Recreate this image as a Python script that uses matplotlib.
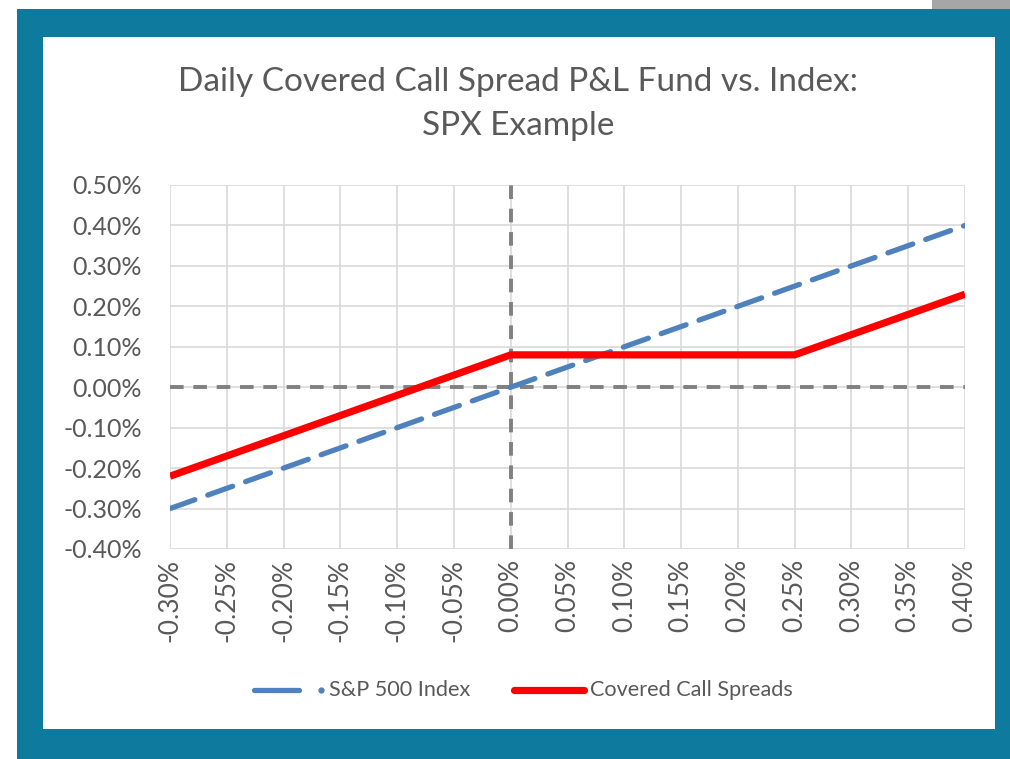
import matplotlib
matplotlib.use("Agg")
import matplotlib.pyplot as plt
from matplotlib.patches import Rectangle
from matplotlib.lines import Line2D

categories = ["-0.30%", "-0.25%", "-0.20%", "-0.15%", "-0.10%", "-0.05%", "0.00%",
              "0.05%", "0.10%", "0.15%", "0.20%", "0.25%", "0.30%", "0.35%", "0.40%"]
sp500 = [-0.30, -0.25, -0.20, -0.15, -0.10, -0.05, 0.00, 0.05, 0.10, 0.15, 0.20, 0.25, 0.30, 0.35, 0.40]
covered = [-0.22, -0.17, -0.12, -0.07, -0.02, 0.03, 0.08, 0.08, 0.08, 0.08, 0.08, 0.08, 0.13, 0.18, 0.23]
yticks = [-0.40, -0.30, -0.20, -0.10, 0.00, 0.10, 0.20, 0.30, 0.40, 0.50]
title = "Daily Covered Call Spread P&L Fund vs. Index:\nSPX Example"

W, H = 1010, 759
fig = plt.figure(figsize=(W / 100, H / 100), dpi=100)
plt.rcParams['font.family'] = ['Lato', 'DejaVu Sans']
txt = "#595959"

def fx(px): return px / W
def fy(py): return 1 - py / H

# frame
teal = "#0e7a9e"
fig.patches.append(Rectangle((fx(932), fy(9)), fx(1010 - 932), 9 / H, transform=fig.transFigure,
                             facecolor="#a6a6a6", edgecolor="none", zorder=-3))
fig.patches.append(Rectangle((fx(17), 0), fx(1010 - 17), fy(9), transform=fig.transFigure,
                             facecolor=teal, edgecolor="none", zorder=-3))
fig.patches.append(Rectangle((fx(43), fy(729)), fx(995 - 43), (729 - 37) / H, transform=fig.transFigure,
                             facecolor="white", edgecolor="none", zorder=-2))

ax = fig.add_axes([fx(170), fy(549), fx(965 - 170), (549 - 185) / H])
ax.set_facecolor("none")
x = list(range(len(categories)))
ax.set_xlim(0, len(categories) - 1)
ax.set_ylim(-0.40, 0.50)
ax.set_xticks(x)
ax.set_xticklabels(categories, rotation=90, fontsize=19, color=txt)
ax.set_yticks(yticks)
ax.set_yticklabels([f"{v:.2f}%" for v in yticks], fontsize=18, color=txt)
ax.grid(True, color="#d9d9d9", linewidth=1.2)
ax.set_axisbelow(True)
for s in ax.spines.values():
    s.set_visible(False)
ax.tick_params(axis="y", length=0, pad=20)
ax.tick_params(axis="x", length=0, pad=7)

zero_idx = categories.index("0.00%")
ax.axhline(0, color="#808080", linewidth=2.8, dashes=(3.5, 2.5), zorder=2)
ax.axvline(zero_idx, color="#808080", linewidth=2.8, dashes=(3.5, 2.5), zorder=2)

ax.plot(x, sp500, color="#4f81bd", linewidth=3.8, dashes=(5, 2.6), dash_capstyle="round",
        solid_capstyle="round", zorder=3)
ax.plot(x, covered, color="#ff0000", linewidth=5.2, solid_capstyle="butt", solid_joinstyle="miter", zorder=4)

fig.text(fx(518), fy(104), title, ha="center", va="center", fontsize=24, color=txt, linespacing=1.55)

# legend
ly = fy(690)
fig.lines.append(Line2D([fx(254), fx(299)], [ly, ly], transform=fig.transFigure, color="#4f81bd",
                        linewidth=3.8, solid_capstyle="round"))
fig.lines.append(Line2D([fx(321)], [ly], transform=fig.transFigure, color="#4f81bd",
                        marker="o", markersize=3.5, linestyle="none"))
fig.text(fx(329), ly, "S&P 500 Index", ha="left", va="center", fontsize=15.6, color=txt)
fig.lines.append(Line2D([fx(514), fx(584)], [ly, ly], transform=fig.transFigure, color="#ff0000",
                        linewidth=5.2, solid_capstyle="round"))
fig.text(fx(590), ly, "Covered Call Spreads", ha="left", va="center", fontsize=15.6, color=txt)

fig.savefig("out.png", dpi=100)
